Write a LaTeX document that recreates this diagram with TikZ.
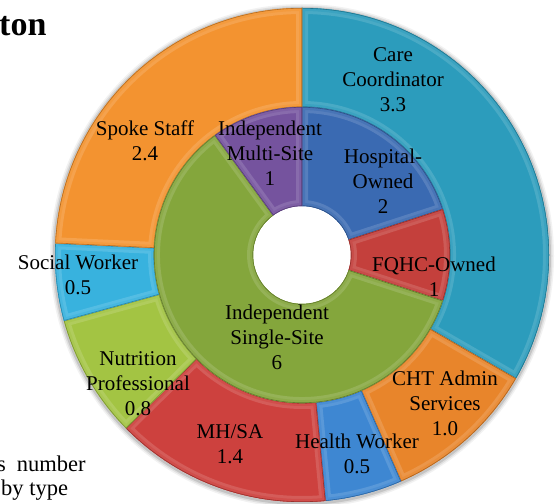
\documentclass[tikz,border=0pt]{standalone}
\usepackage{fontspec}
\setmainfont{Liberation Serif}
\definecolor{cCare}{RGB}{44,156,188}
\definecolor{cSpoke}{RGB}{243,147,48}
\definecolor{cSocial}{RGB}{56,178,222}
\definecolor{cNutr}{RGB}{163,196,67}
\definecolor{cMH}{RGB}{205,65,62}
\definecolor{cHealth}{RGB}{62,135,210}
\definecolor{cCHT}{RGB}{232,133,43}
\definecolor{cMulti}{RGB}{117,83,158}
\definecolor{cHosp}{RGB}{58,106,178}
\definecolor{cFQHC}{RGB}{196,64,60}
\definecolor{cSingle}{RGB}{132,166,60}
% color, start angle, end angle, inner radius, outer radius
\newcommand\ringseg[5]{%
  \begin{scope}
    \path[clip] (#2:#5) arc[start angle=#2,end angle=#3,radius=#5]
      -- (#3:#4) arc[start angle=#3,end angle=#2,radius=#4] -- cycle;
    \fill[#1] (-300,-300) rectangle (300,300);
    \draw[#1!86!white, line width=12pt, line join=round]
      (#2:#5) arc[start angle=#2,end angle=#3,radius=#5]
      -- (#3:#4) arc[start angle=#3,end angle=#2,radius=#4] -- cycle;
    \draw[#1!93!white, line width=6pt, line join=round]
      (#2:#5) arc[start angle=#2,end angle=#3,radius=#5]
      -- (#3:#4) arc[start angle=#3,end angle=#2,radius=#4] -- cycle;
    \draw[#1!75!black, line width=1.2pt, line join=round]
      (#2:#5) arc[start angle=#2,end angle=#3,radius=#5]
      -- (#3:#4) arc[start angle=#3,end angle=#2,radius=#4] -- cycle;
  \end{scope}}
\begin{document}
\begin{tikzpicture}[x=1pt,y=1pt,
  lbl/.style={align=center,font=\fontsize{21}{25}\selectfont,inner sep=0pt},
  side/.style={anchor=base west,font=\fontsize{22.5}{24}\selectfont,inner sep=0pt}]
\useasboundingbox (-302,-248) rectangle (254,255);
% soft shadow around the donut
\foreach \r/\o in {252/0.05,250.5/0.08,249/0.12}
  \fill[black,opacity=\o] (0,-1) circle[radius=\r];
\fill[white] (0,0) circle[radius=52];
% outer ring
\ringseg{cCare}{90}{-30}{148}{247}
\ringseg{cCHT}{-30}{-66.36}{148}{247}
\ringseg{cHealth}{-66.36}{-84.55}{148}{247}
\ringseg{cMH}{-84.55}{-135.45}{148}{247}
\ringseg{cNutr}{-135.45}{-164.55}{148}{247}
\ringseg{cSocial}{-164.55}{-182.73}{148}{247}
\ringseg{cSpoke}{-182.73}{-270}{148}{247}
% inner ring
\ringseg{cHosp}{90}{18}{49}{148}
\ringseg{cFQHC}{18}{-18}{49}{148}
\ringseg{cSingle}{-18}{-234}{49}{148}
\ringseg{cMulti}{126}{90}{49}{148}
% labels
\node[lbl] (care) at (91,175) {Care\\Coordinator\\3.3};
\node[lbl] (spoke) at (-157,114) {Spoke Staff\\2.4};
\node[lbl] (multi) at (-32,102) {Independent\\Multi-Site\\1};
\node[lbl] (hosp) at (81,74) {Hospital-\\Owned\\2};
\node[lbl] (fqhc) at (132,-22) {FQHC-Owned\\1};
\node[lbl] (single) at (-25,-82) {Independent\\Single-Site\\6};
\node[lbl] (cht) at (143,-148) {CHT Admin\\Services\\1.0};
\node[lbl] (health) at (55,-199) {Health Worker\\0.5};
\node[lbl] (mhsa) at (-72,-189) {MH/SA\\1.4};
\node[lbl] (nutr) at (-164,-129) {Nutrition\\Professional\\0.8};
\node[lbl] (social) at (-224,-20) {Social Worker\\0.5};
% cut-off surrounding texts
\node[anchor=base west,inner sep=0pt,font=\fontsize{34}{36}\selectfont\bfseries] (title) at (-303,219) {ton};
\node[side] (t1) at (-305,-216) {s\hspace{11pt}number};
\node[side] (t2) at (-301,-240) {by type};
\end{tikzpicture}
\end{document}
